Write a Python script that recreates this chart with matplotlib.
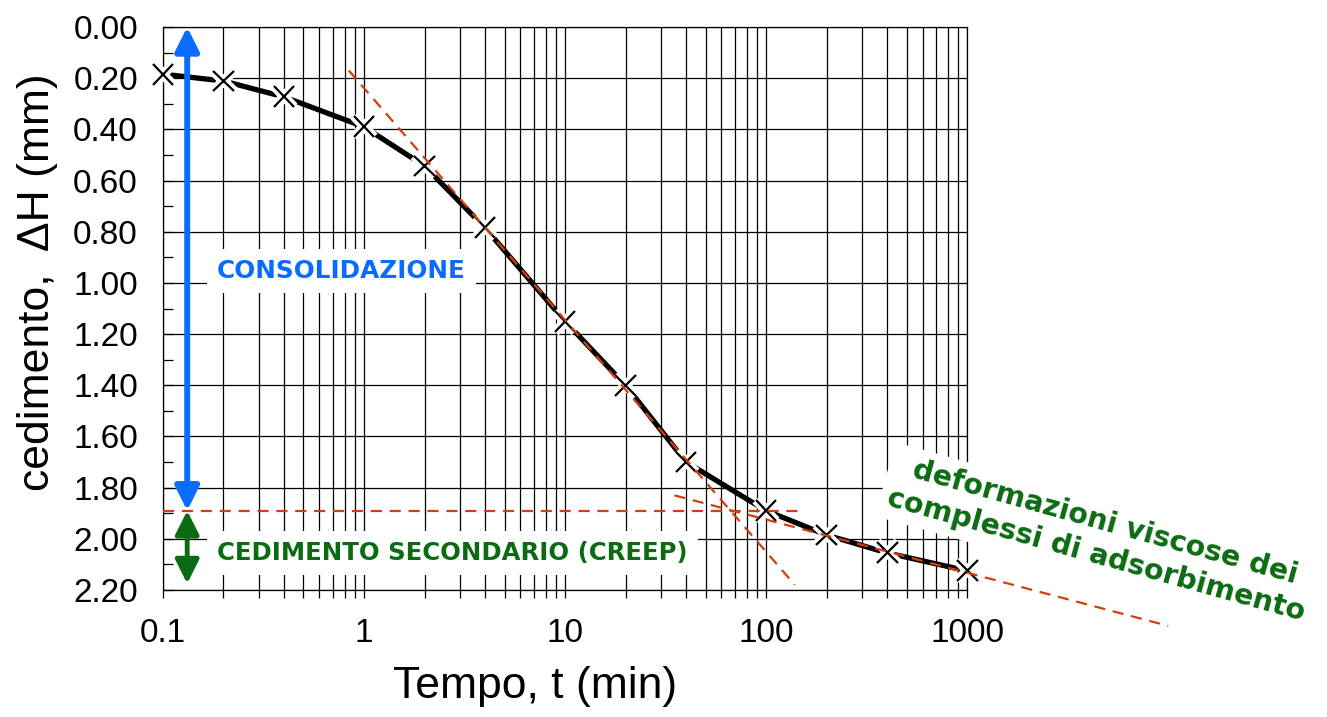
import matplotlib
matplotlib.use('Agg')
import matplotlib.pyplot as plt
import matplotlib.patheffects as pe
from matplotlib.ticker import LogLocator, MultipleLocator, FixedLocator, NullFormatter

plt.rcParams['font.family'] = ['Liberation Sans', 'DejaVu Sans']

### dati della prova edometrica
tempo = [0.1, 0.2, 0.4, 1, 2, 4, 10, 20, 40, 100, 200, 400, 1000]
cedimento = [0.184, 0.211, 0.273, 0.39, 0.543, 0.785, 1.15, 1.40, 1.70, 1.89, 1.985, 2.055, 2.125]

### rette di costruzione (tratteggio rosso)
tang1_t = [0.84, 139]
tang1_h = [0.17, 2.18]
orizz_t = [0.1, 148]
orizz_h = [1.89, 1.89]
tang2_t = [35, 10000]
tang2_h = [1.83, 2.34]

ytick_vals = [0.0, 0.2, 0.4, 0.6, 0.8, 1.0, 1.2, 1.4, 1.6, 1.8, 2.0, 2.2]
ytick_labels = ['%.2f' % v for v in ytick_vals]
xtick_vals = [0.1, 1, 10, 100, 1000]
xtick_labels = ['0.1', '1', '10', '100', '1000']

ROSSO = '#d0400c'
BLU = '#0a6cff'
VERDE = '#0b6b12'

fig = plt.figure(figsize=(13.27, 7.17), dpi=100)
ax = fig.add_axes([0.1228, 0.1771, 0.606, 0.7852])

ax.set_xscale('log')
ax.set_xlim(0.1, 1000)
ax.set_ylim(2.2, 0.0)

# griglia
ax.xaxis.set_major_locator(FixedLocator(xtick_vals))
ax.xaxis.set_minor_locator(LogLocator(base=10, subs=range(2, 10)))
ax.xaxis.set_minor_formatter(NullFormatter())
ax.set_xticklabels(xtick_labels)
ax.yaxis.set_major_locator(FixedLocator(ytick_vals))
ax.yaxis.set_minor_locator(MultipleLocator(0.1))
ax.set_yticklabels(ytick_labels)
ax.grid(True, which='major', color='black', linewidth=0.9)
ax.grid(True, which='minor', axis='x', color='black', linewidth=0.9)
ax.set_axisbelow(True)

ax.tick_params(axis='x', which='both', direction='out', length=6, width=0.9,
               labelsize=24, pad=14)
ax.tick_params(axis='y', which='both', direction='in', length=7, width=0.9,
               labelsize=24, pad=18)
for s in ax.spines.values():
    s.set_linewidth(0.9)

# curva sperimentale
ax.plot(tempo, cedimento, color='black', linewidth=3.8, zorder=3)
ax.plot(tempo, cedimento, linestyle='none', marker='x', markersize=15,
        markeredgewidth=1.6, color='black', zorder=4, clip_on=False,
        path_effects=[pe.Stroke(linewidth=7, foreground='white'), pe.Normal()])

# rette tratteggiate
for tt, hh, clip in [(tang1_t, tang1_h, True), (orizz_t, orizz_h, True), (tang2_t, tang2_h, False)]:
    ax.plot(tt, hh, color=ROSSO, linewidth=1.6, dashes=(5, 3.5), zorder=5, clip_on=clip)

# frecce
ax.annotate('', xy=(0.132, 0.0), xytext=(0.132, 1.89),
            arrowprops=dict(arrowstyle='<|-|>,head_length=0.8,head_width=0.4',
                            mutation_scale=18, color=BLU, linewidth=4.3,
                            shrinkA=0, shrinkB=0), zorder=6)
ax.annotate('', xy=(0.132, 1.89), xytext=(0.132, 2.175),
            arrowprops=dict(arrowstyle='<|-|>,head_length=0.8,head_width=0.4',
                            mutation_scale=18, color=VERDE, linewidth=3.5,
                            shrinkA=0, shrinkB=0), zorder=6)

# etichette
ax.text(0.186, 0.953, 'CONSOLIDAZIONE', color=BLU, fontsize=17.8, fontweight='bold',
        family='DejaVu Sans', ha='left', va='center', zorder=7,
        bbox=dict(boxstyle='square,pad=0.42', facecolor='white', edgecolor='none'))
ax.text(0.186, 2.055, 'CEDIMENTO SECONDARIO (CREEP)', color=VERDE, fontsize=17.6,
        fontweight='bold', family='DejaVu Sans', ha='left', va='center', zorder=7,
        bbox=dict(boxstyle='square,pad=0.42', facecolor='white', edgecolor='none'))
ax.text(4600, 2.0, 'deformazioni viscose dei\ncomplessi di adsorbimento', color=VERDE,
        fontsize=20.5, fontweight='bold', family='DejaVu Sans', ha='center', va='center',
        multialignment='center', rotation=-15.5, linespacing=1.3, zorder=7, clip_on=False,
        bbox=dict(boxstyle='square,pad=0.25', facecolor='white', edgecolor='none'))

ax.set_ylabel('cedimento,  \u0394H (mm)', fontsize=32)
ax.yaxis.set_label_coords(-0.131, 0.547)
ax.set_xlabel('Tempo, t (min)', fontsize=32)
ax.xaxis.set_label_coords(0.463, -0.135)

fig.savefig('out.png', dpi=100)
